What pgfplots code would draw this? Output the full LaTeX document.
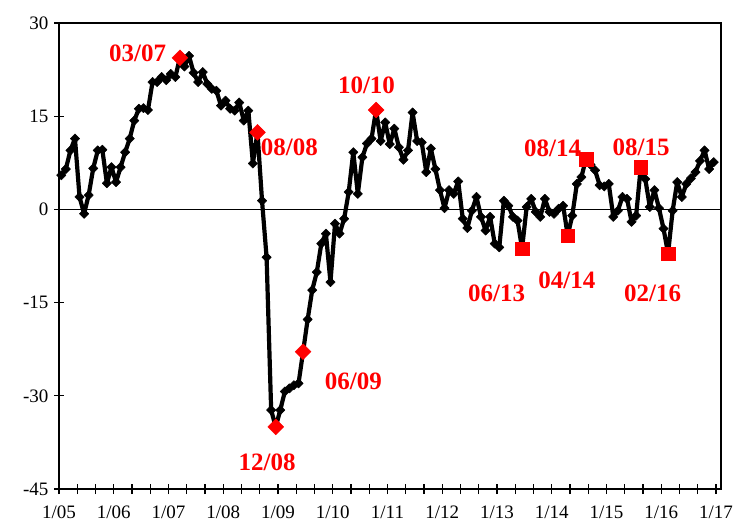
\documentclass[border=0pt]{standalone}
\usepackage{pgfplots}
\pgfplotsset{compat=1.18}
\usepackage{pgfplotstable}
\usepackage{fontspec}
\setmainfont{Liberation Serif}
\pgfplotstableread{
v
5.5
6.5
9.5
11.4
2.0
-0.7
2.3
6.6
9.5
9.6
4.2
6.8
4.4
6.8
9.2
11.4
14.3
16.2
16.3
16.0
20.5
20.5
21.3
20.8
21.8
21.3
24.4
23.0
24.7
22.0
20.5
22.1
20.2
19.4
19.1
16.7
17.5
16.2
15.9
17.2
14.3
15.9
7.4
12.4
1.4
-7.7
-32.3
-35.0
-32.3
-29.3
-28.8
-28.3
-28.0
-22.9
-17.7
-13.0
-10.1
-5.5
-3.9
-11.7
-2.3
-3.9
-1.5
2.8
9.2
2.5
8.4
10.6
11.4
16.0
11.0
14.0
10.5
13.0
10.0
8.0
9.5
15.6
11.0
10.8
6.0
9.8
6.5
3.1
0.2
3.1
2.5
4.5
-1.5
-3.0
-0.2
2.0
-1.2
-3.4
-1.2
-5.5
-6.1
1.4
0.6
-1.2
-1.8
-6.3
0.4
1.7
-0.4
-1.2
1.7
-0.4
-0.7
0.1
0.6
-4.2
-1.0
4.1
5.2
8.1
7.2
6.3
3.9
3.7
4.1
-1.2
-0.2
2.0
1.7
-2.0
-1.0
6.8
4.9
0.4
3.1
0.2
-3.1
-7.1
-0.2
4.4
2.0
4.1
5.0
6.0
7.8
9.5
6.5
7.6
}\mydata
\begin{document}
\begin{tikzpicture}
\useasboundingbox (-59pt,-34pt) rectangle (679pt,489pt);
\begin{axis}[
  at={(0pt,0pt)}, anchor=south west,
  scale only axis,
  width=662pt, height=466pt,
  xmin=0, xmax=145.1,
  ymin=-45, ymax=30,
  axis line style={line width=1.6pt},
  xtick={0,12,...,144},
  xticklabels={1/05,1/06,1/07,1/08,1/09,1/10,1/11,1/12,1/13,1/14,1/15,1/16,1/17},
  minor xtick={4,8,16,20,28,32,40,44,52,56,64,68,76,80,88,92,100,104,112,116,124,128,136,140},
  ytick={-45,-30,-15,0,15,30},
  yticklabels={-45,-30,-15,0,15,30},
  tick pos=left,
  tick align=center,
  major tick length=10pt,
  minor tick length=10pt,
  tick style={black, line width=1.2pt},
  ticklabel style={font=\fontsize{19}{21}\selectfont},
  xticklabel style={yshift=-8pt},
  yticklabel style={xshift=-2pt},
  clip=false,
]
\draw[line width=1.6pt] (axis cs:0,0) -- (axis cs:145.1,0);
\addplot[black, line width=4.2pt, line join=round, mark=square*, mark size=3.3pt, mark options={rotate=45, line width=0.5pt, fill=black}]
  table[x expr=\coordindex+0.5, y=v] {\mydata};
\addplot[only marks, red, mark=square*, mark size=5.6pt, mark options={rotate=45, fill=red, draw=red}]
  coordinates {(26.5,24.4) (43.5,12.4) (47.5,-35.0) (53.5,-22.9) (69.5,16.0)};
\addplot[only marks, red, mark=square*, mark size=6.8pt, mark options={fill=red, draw=red}]
  coordinates {(101.5,-6.3) (111.5,-4.2) (115.5,8.1) (127.5,6.8) (133.5,-7.1)};
\begin{scope}[every node/.style={red, inner sep=0pt, font=\fontsize{25}{28}\bfseries\selectfont}]
\node at (axis cs:17.25,25.2) {03/07};
\node at (axis cs:50.5,10.0) {08/08};
\node at (axis cs:67.4,19.9) {10/10};
\node at (axis cs:64.5,-27.6) {06/09};
\node at (axis cs:45.6,-40.65) {12/08};
\node at (axis cs:95.9,-13.45) {06/13};
\node at (axis cs:111.3,-11.36) {04/14};
\node at (axis cs:108.2,9.9) {08/14};
\node at (axis cs:127.6,9.96) {08/15};
\node at (axis cs:130.1,-13.45) {02/16};
\end{scope}
\end{axis}
\end{tikzpicture}
\end{document}
